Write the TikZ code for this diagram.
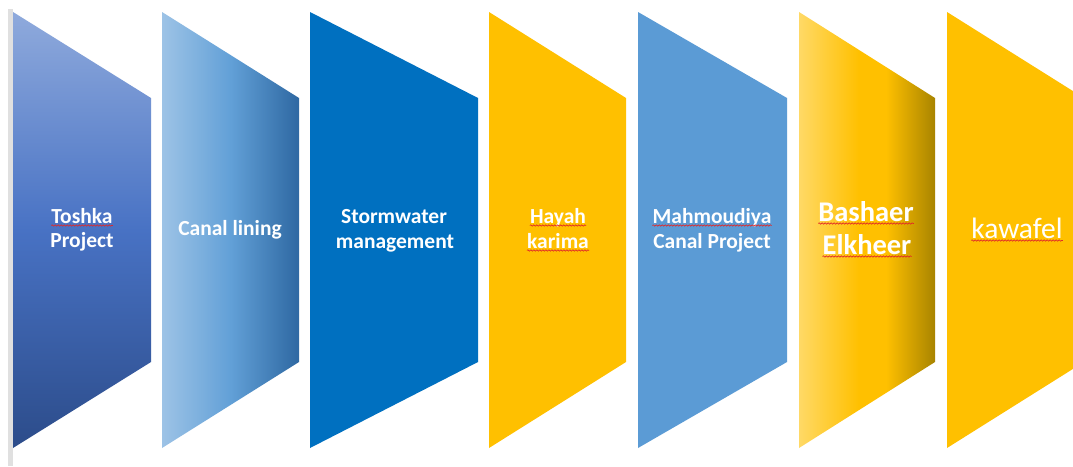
\documentclass[tikz,border=0pt]{standalone}
\usepackage{fontspec}
\setmainfont{Carlito}
\usetikzlibrary{decorations.pathmorphing}

% palette
\definecolor{edgegrey}{RGB}{224,224,224}
\definecolor{blueTop}{RGB}{143,170,220}
\definecolor{blueMid}{RGB}{72,114,196}
\definecolor{blueBot}{RGB}{44,76,138}
\definecolor{liningL}{RGB}{157,195,230}
\definecolor{liningM}{RGB}{98,160,215}
\definecolor{liningR}{RGB}{46,104,162}
\definecolor{stormBlue}{RGB}{0,112,192}
\definecolor{amber}{RGB}{255,192,0}
\definecolor{canalBlue}{RGB}{91,155,213}
\definecolor{goldA}{RGB}{255,217,102}
\definecolor{goldB}{RGB}{255,192,0}
\definecolor{goldC}{RGB}{168,132,0}
\definecolor{spellred}{RGB}{225,40,40}

% left-to-right gold shading; the path box maps onto 25bp..75bp
\pgfdeclarehorizontalshading{goldbar}{100bp}{%
  color(0bp)=(goldA); color(25bp)=(goldA); color(47bp)=(goldB);
  color(57bp)=(goldB); color(75bp)=(goldC); color(100bp)=(goldC)}

\begin{document}
\begin{tikzpicture}[x=1pt,y=-1pt,
  lbl/.style={text=white, inner sep=0pt, anchor=base,
    font=\fontsize{21.5}{26}\selectfont\bfseries},
  biglbl/.style={lbl, font=\fontsize{28.5}{34}\selectfont\bfseries},
  plainlbl/.style={lbl, font=\fontsize{29.5}{35}\selectfont},
  squig/.style={draw=spellred, line width=0.6pt, decorate,
    decoration={snake, segment length=3pt, amplitude=0.7pt}}]

\clip (0,0) rectangle (1073,466);
\fill[white] (0,0) rectangle (1073,466);
\fill[edgegrey] (8,9) rectangle (12.5,466);

% the seven funnel panels
\path[top color=blueTop, bottom color=blueBot, middle color=blueMid]
  (13,12) -- (151,98) -- (151,362) -- (13,448) -- cycle;
\path[left color=liningL, right color=liningR, middle color=liningM]
  (162,12) -- (299,98) -- (299,362) -- (162,448) -- cycle;
\fill[stormBlue]
  (310,12) -- (478,98) -- (478,362) -- (310,448) -- cycle;
\fill[amber]
  (489,12) -- (626,98) -- (626,362) -- (489,448) -- cycle;
\fill[canalBlue]
  (638,12) -- (787,98) -- (787,362) -- (638,448) -- cycle;
\path[shading=goldbar]
  (799,12) -- (935,98) -- (935,362) -- (799,448) -- cycle;
\fill[amber]
  (947,12) -- (1084,98) -- (1084,362) -- (947,448) -- cycle;

% labels
\node[lbl] (t1a) at (82,223) {Toshka};
\node[lbl] (t1b) at (82,247) {Project};
\node[lbl] (t2)  at (230,235) {Canal lining};
\node[lbl] (t3a) at (394,223) {Stormwater};
\node[lbl] (t3b) at (395,248) {management};
\node[lbl] (t4a) at (558,223) {Hayah};
\node[lbl] (t4b) at (558,248) {karima};
\node[lbl] (t5a) at (712,223) {Mahmoudiya};
\node[lbl] (t5b) at (712,248) {Canal Project};
\node[biglbl] (t6a) at (866,221) {Bashaer};
\node[biglbl] (t6b) at (867,254) {Elkheer};
\node[plainlbl] (t7) at (1017,238) {kawafel};

% spelling squiggles
\foreach \w in {t1a,t4a,t4b,t5a,t6a,t6b,t7}
  \path[squig] ([yshift=-2.5pt]\w.base west) -- ([yshift=-2.5pt]\w.base east);
\end{tikzpicture}
\end{document}
